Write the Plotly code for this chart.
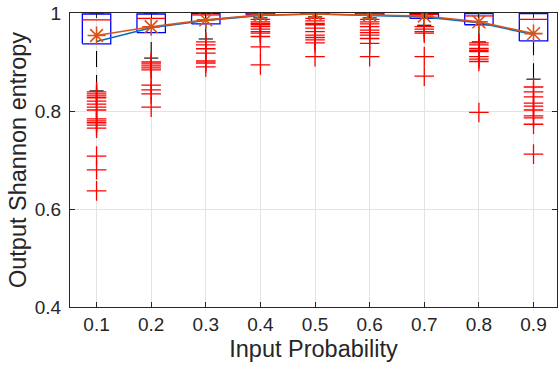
import plotly.graph_objects as go

# Box-plot summary of output entropy per input probability
probs = [0.1, 0.2, 0.3, 0.4, 0.5, 0.6, 0.7, 0.8, 0.9]
q1 = [0.937, 0.960, 0.978, 0.996, 0.997, 0.996, 0.989, 0.976, 0.943]
q3 = [0.998, 0.998, 0.999, 1.000, 1.000, 1.000, 0.999, 0.999, 0.999]
medians = [0.986, 0.989, 0.996, 0.998, 0.999, 0.998, 0.997, 0.994, 0.987]
whisker_low = [0.841, 0.908, 0.947, 0.990, 0.992, 0.990, 0.975, 0.941, 0.865]
whisker_high = [1.000, 1.000, 1.000, 1.000, 1.000, 1.000, 1.000, 1.000, 1.000]
outliers = [
    [0.839, 0.835, 0.831, 0.827, 0.820, 0.814, 0.808, 0.802, 0.784, 0.780,
     0.776, 0.771, 0.765, 0.708, 0.680, 0.637],
    [0.900, 0.896, 0.892, 0.888, 0.884, 0.853, 0.843, 0.835, 0.808],
    [0.941, 0.935, 0.927, 0.918, 0.902, 0.898, 0.890],
    [0.987, 0.982, 0.979, 0.976, 0.972, 0.967, 0.962, 0.959, 0.952, 0.931, 0.894],
    [0.989, 0.984, 0.979, 0.976, 0.969, 0.962, 0.955, 0.950, 0.945, 0.939, 0.911],
    [0.987, 0.982, 0.978, 0.972, 0.965, 0.960, 0.955, 0.948, 0.938, 0.911],
    [0.972, 0.967, 0.962, 0.959, 0.911, 0.871],
    [0.939, 0.935, 0.928, 0.924, 0.921, 0.911, 0.906, 0.901, 0.797],
    [0.849, 0.839, 0.829, 0.816, 0.810, 0.802, 0.790, 0.786, 0.773, 0.712],
]
# Mean curves
mean_blue = [0.942, 0.970, 0.985, 0.995, 0.998, 0.995, 0.992, 0.980, 0.956]
mean_orange = [0.954, 0.972, 0.986, 0.996, 0.998, 0.996, 0.994, 0.982, 0.958]

ytick_vals = [0.4, 0.6, 0.8, 1.0]
ytick_text = ["0.4", "0.6", "0.8", "1"]
xtick_text = ["0.1", "0.2", "0.3", "0.4", "0.5", "0.6", "0.7", "0.8", "0.9"]

BOX_HALF = 0.026
CAP_HALF = 0.013
FONT = "Liberation Sans, Arial, sans-serif"
TXT = "#262626"

fig = go.Figure()

for i, p in enumerate(probs):
    # lower whisker (drawn from the cap toward the box) and upper whisker
    for a, b in ((whisker_low[i], q1[i]), (whisker_high[i], q3[i])):
        fig.add_trace(go.Scatter(
            x=[p, p], y=[a, b], mode="lines",
            line=dict(color="black", width=1.1, dash="16px,8px"),
            hoverinfo="skip", showlegend=False))
    for v in (whisker_low[i], whisker_high[i]):
        fig.add_trace(go.Scatter(
            x=[p - CAP_HALF, p + CAP_HALF], y=[v, v], mode="lines",
            line=dict(color="black", width=1.1),
            hoverinfo="skip", showlegend=False))
    # box
    fig.add_trace(go.Scatter(
        x=[p - BOX_HALF, p + BOX_HALF, p + BOX_HALF, p - BOX_HALF, p - BOX_HALF],
        y=[q1[i], q1[i], q3[i], q3[i], q1[i]], mode="lines",
        line=dict(color="#0000ff", width=1.3),
        hoverinfo="skip", showlegend=False))
    # median
    fig.add_trace(go.Scatter(
        x=[p - BOX_HALF, p + BOX_HALF], y=[medians[i], medians[i]], mode="lines",
        line=dict(color="#ff0000", width=1.3),
        hoverinfo="skip", showlegend=False))
    # outliers
    fig.add_trace(go.Scatter(
        x=[p] * len(outliers[i]), y=outliers[i], mode="markers",
        marker=dict(symbol="cross-thin-open", size=14, color="#ff0000",
                    line=dict(color="#ff0000", width=1.3)),
        showlegend=False))

fig.add_trace(go.Scatter(
    x=probs, y=mean_blue, mode="lines",
    line=dict(color="#0072BD", width=1.6), showlegend=False))
fig.add_trace(go.Scatter(
    x=probs, y=mean_orange, mode="lines+markers",
    line=dict(color="#D95319", width=1.6),
    marker=dict(symbol="asterisk-open", size=15, color="#D95319",
                line=dict(color="#D95319", width=1.6)),
    showlegend=False))

axis_common = dict(
    showline=True, linecolor=TXT, linewidth=1.3, mirror="ticks",
    ticks="inside", ticklen=5, tickwidth=1.3, tickcolor=TXT,
    showgrid=True, gridcolor="#e3e3e3", gridwidth=1,
    zeroline=False,
    tickfont=dict(family=FONT, size=19, color=TXT),
)

fig.update_layout(
    width=558, height=373,
    margin=dict(l=70, r=1, t=13, b=66),
    paper_bgcolor="white", plot_bgcolor="white",
    font=dict(family=FONT, color=TXT),
    xaxis=dict(
        range=[0.0514, 0.943], tickvals=probs, ticktext=xtick_text,
        title=dict(text="Input Probability",
                   font=dict(family=FONT, size=23.5, color=TXT), standoff=6),
        **axis_common),
    yaxis=dict(
        range=[0.4, 1.0], tickvals=ytick_vals, ticktext=ytick_text,
        ticklabelstandoff=4,
        title=dict(text="Output Shannon entropy",
                   font=dict(family=FONT, size=23.5, color=TXT), standoff=1),
        **axis_common),
)

fig.write_html("out.html")
